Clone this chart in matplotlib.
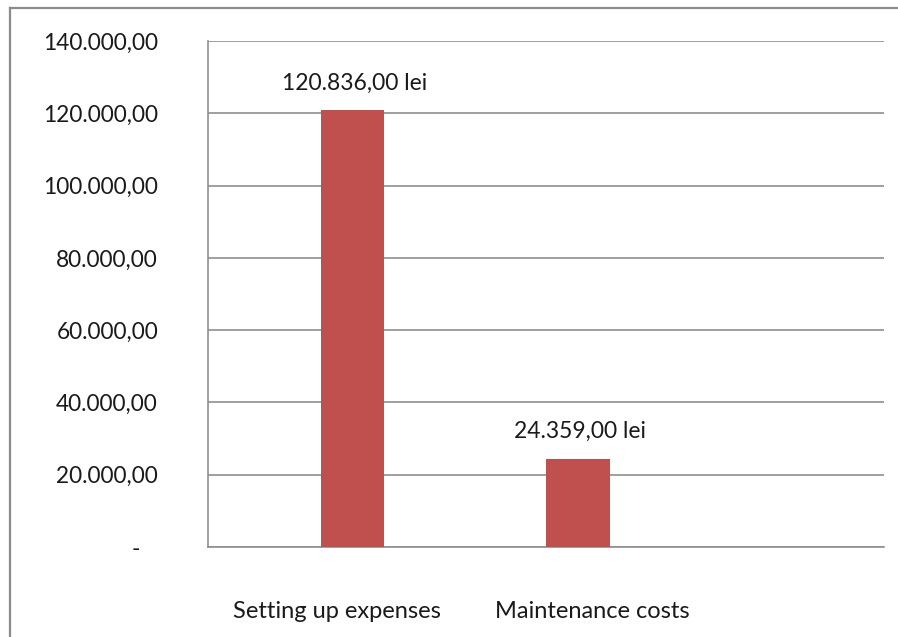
import matplotlib.pyplot as plt
from matplotlib.lines import Line2D

# chart data
categories = ['Setting up expenses', 'Maintenance costs']
values = [120836, 24359]
value_labels = ['120.836,00 lei', '24.359,00 lei']
y_ticks = [0, 20000, 40000, 60000, 80000, 100000, 120000, 140000]
y_tick_labels = ['-   ', '20.000,00', '40.000,00', '60.000,00', '80.000,00',
                 '100.000,00', '120.000,00', '140.000,00']

plt.rcParams['font.family'] = ['Lato', 'DejaVu Sans']

fig = plt.figure(figsize=(8.98, 6.37), dpi=100)
fig.patch.set_facecolor('white')

# outer chart-area frame (only left and top edges visible)
fx, fy = 10 / 898, 1 - 8 / 637
fig.lines.append(Line2D([fx, fx], [-0.01, fy], transform=fig.transFigure,
                        color='#8c8c8c', linewidth=1.6))
fig.lines.append(Line2D([fx, 1.01], [fy, fy], transform=fig.transFigure,
                        color='#8c8c8c', linewidth=1.6))

ax = fig.add_axes([208 / 898, 90 / 637, 676 / 898, 506 / 637])

pos = list(range(len(categories)))
ax.bar(pos, values, width=0.282, color='#C0504D', zorder=3)

for p, v, lab in zip(pos, values, value_labels):
    ax.text(p + 0.01, v + 4600, lab, ha='center', va='bottom',
            fontsize=16.5, color='#1a1a1a')

ax.set_xlim(-0.641, 2.357)
ax.set_ylim(0, 140000)
ax.set_yticks(y_ticks)
ax.set_yticklabels(y_tick_labels, fontsize=16.3, color='#1a1a1a')
ax.tick_params(axis='y', length=0, pad=36)

# category labels sit a bit off the bar centres, like the original
ax.set_xticks([p + off for p, off in zip(pos, [-0.067, 0.062])])
ax.set_xticklabels(categories, fontsize=17, color='#1a1a1a')
ax.tick_params(axis='x', length=0, pad=39)

ax.yaxis.grid(True, color='#8f8f8f', linewidth=1.2, zorder=0)
for s in ['top', 'right']:
    ax.spines[s].set_visible(False)
ax.spines['left'].set_color('#8f8f8f')
ax.spines['bottom'].set_color('#8f8f8f')
ax.spines['left'].set_linewidth(1.2)
ax.spines['bottom'].set_linewidth(1.2)

fig.savefig('out.png', dpi=100, facecolor='white')
